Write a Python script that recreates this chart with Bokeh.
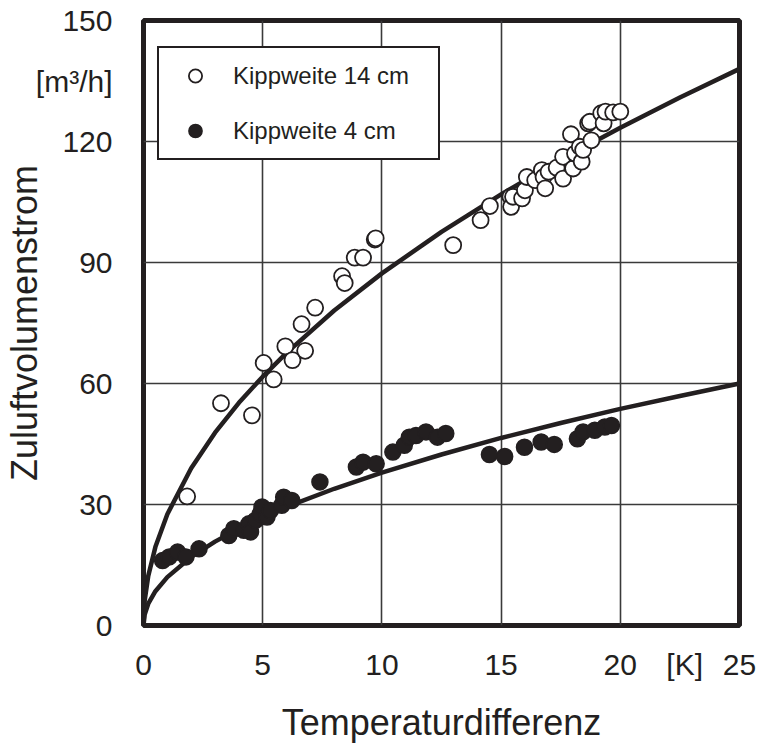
from bokeh.plotting import figure
from bokeh.models import Range1d, FixedTicker, Legend, LegendItem
from bokeh.embed import file_html
from bokeh.resources import INLINE

# ---- data ----
open_x = [1.83, 3.25, 4.55, 5.04, 5.46, 5.95, 6.25, 6.63, 6.78, 7.2, 8.33, 8.44, 8.86, 9.21, 9.7,
          9.74, 12.99, 14.14, 14.53, 15.39, 15.42, 15.5, 15.88, 16.0, 16.08, 16.43, 16.71, 16.78,
          16.85, 16.99, 17.33, 17.6, 17.6, 17.93, 18.02, 18.1, 18.3, 18.38, 18.44, 18.65, 18.72,
          18.79, 19.2, 19.3, 19.38, 19.7, 20.0]
open_y = [32.0, 55.1, 52.1, 65.1, 61.0, 69.2, 65.8, 74.7, 68.1, 78.8, 86.6, 84.9, 91.2, 91.2, 95.7,
          96.0, 94.3, 100.5, 104.0, 106.3, 103.8, 106.3, 105.9, 107.9, 111.2, 110.4, 112.9, 111.2,
          108.4, 112.5, 113.5, 116.2, 110.8, 121.8, 113.3, 117.0, 118.7, 115.0, 117.9, 124.5, 124.9,
          120.3, 127.0, 124.5, 127.4, 127.2, 127.4]

filled_x = [0.8, 1.08, 1.43, 1.78, 2.33, 3.58, 3.79, 4.21, 4.42, 4.49, 4.7, 4.9, 4.97, 5.18, 5.32,
            5.8, 5.88, 6.22, 7.4, 8.93, 9.21, 9.76, 10.46, 10.94, 11.15, 11.43, 11.85, 12.33, 12.68,
            14.51, 15.15, 15.98, 16.68, 17.23, 18.2, 18.44, 18.93, 19.35, 19.63]
filled_y = [16.1, 17.0, 18.2, 17.0, 19.0, 22.3, 24.0, 23.6, 25.2, 23.2, 26.1, 27.7, 29.4, 26.9, 28.5,
            29.8, 31.8, 31.0, 35.6, 39.3, 40.5, 40.1, 43.0, 44.7, 46.7, 47.1, 48.0, 46.7, 47.6,
            42.4, 41.9, 44.2, 45.5, 44.9, 46.3, 48.0, 48.4, 49.2, 49.6]

curve_x = [0, 0.05, 0.2, 0.5, 1, 2, 3, 4, 5, 6, 8, 10, 12.5, 15, 17.5, 20, 22.5, 25]
curve14_y = [0, 6.2, 12.3, 19.5, 27.6, 39.0, 47.8, 55.2, 61.7, 67.6, 78.1, 87.3, 97.6, 106.9,
             115.5, 123.4, 130.9, 138.0]
curve4_y = [0, 2.7, 5.4, 8.5, 12.0, 17.0, 20.8, 24.0, 26.8, 29.4, 33.9, 37.9, 42.4, 46.5,
            50.2, 53.7, 56.9, 60.0]

x_ticks = [0, 5, 10, 15, 20, 22.7, 25]
x_unit = "[K]"
y_ticks = [0, 30, 60, 90, 120, 135, 150]
y_unit = "[m³/h]"
series_labels = ["Kippweite 14 cm", "Kippweite 4 cm"]

INK = "#231f20"
FONT = "Liberation Sans"

p = figure(width=763, height=746, output_backend="svg", toolbar_location=None,
           x_range=Range1d(0, 25), y_range=Range1d(0, 150),
           min_border_left=139, min_border_right=24, min_border_top=20, min_border_bottom=121,
           background_fill_color="white", border_fill_color="white")

p.outline_line_color = INK
p.outline_line_width = 5

# grid
p.xgrid.ticker = FixedTicker(ticks=[5, 10, 15, 20])
p.ygrid.ticker = FixedTicker(ticks=[30, 60, 90, 120])
for g in (p.xgrid, p.ygrid):
    g.grid_line_color = "#3a3a3a"
    g.grid_line_width = 1.6

# axes
p.xaxis.ticker = FixedTicker(ticks=x_ticks)
p.xaxis.major_label_overrides = {22.7: x_unit}
p.yaxis.ticker = FixedTicker(ticks=y_ticks)
p.yaxis.major_label_overrides = {135: y_unit}
for ax in (p.xaxis, p.yaxis):
    ax.axis_line_color = None
    ax.major_tick_line_color = None
    ax.minor_tick_line_color = None
    ax.major_label_text_font = FONT
    ax.major_label_text_font_size = "30px"
    ax.major_label_text_color = INK
    ax.axis_label_text_font = FONT
    ax.axis_label_text_font_size = "36px"
    ax.axis_label_text_font_style = "normal"
    ax.axis_label_text_color = INK
p.xaxis.major_label_standoff = 16
p.yaxis.major_label_standoff = 25
p.xaxis.axis_label = "Temperaturdifferenz"
p.yaxis.axis_label = "Zuluftvolumenstrom"
p.xaxis.axis_label_standoff = 18
p.yaxis.axis_label_standoff = -12

# fitted curves
p.line(curve_x, curve14_y, line_color=INK, line_width=4.5)
p.line(curve_x, curve4_y, line_color=INK, line_width=4.5)

# markers
r_filled = p.scatter(filled_x, filled_y, marker="circle", size=16,
                     fill_color=INK, line_color=INK, line_width=1.5)
r_open = p.scatter(open_x, open_y, marker="circle", size=16,
                   fill_color="white", line_color=INK, line_width=1.8)

legend = Legend(items=[LegendItem(label=series_labels[0], renderers=[r_open]),
                       LegendItem(label=series_labels[1], renderers=[r_filled])],
                location=(14, 465), margin=0, padding=11, spacing=22,
                glyph_width=50, glyph_height=33, label_height=33, label_width=194,
                label_standoff=13, label_text_font=FONT, label_text_font_size="24px",
                label_text_color=INK, border_line_color=INK, border_line_width=2.5,
                border_line_alpha=1.0,
                background_fill_color="white", background_fill_alpha=1)
p.add_layout(legend)

open("out.html", "w").write(file_html(p, INLINE))
